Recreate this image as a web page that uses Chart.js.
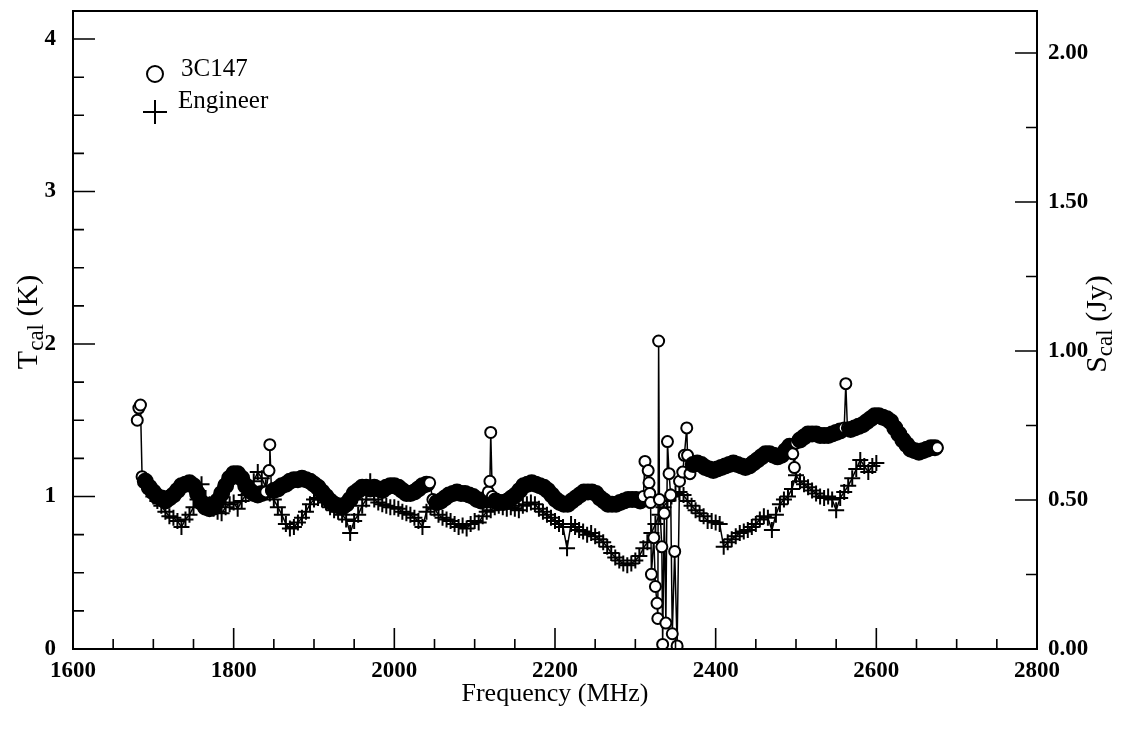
<!DOCTYPE html>
<html>
<head>
<meta charset="utf-8">
<title>Tcal vs frequency</title>
<script src="https://cdn.jsdelivr.net/npm/chart.js@4.4.1/dist/chart.umd.min.js"></script>
<style>
  html, body { margin: 0; padding: 0; background: #fff; }
  #wrap { width: 1123px; height: 742px; }
</style>
</head>
<body>
<div id="wrap"><canvas id="tcalChart" width="1123" height="742"></canvas></div>
<script>
// 3C147 (circles) - frequency in MHz, Tcal in K
const freq3C147 = [
  1680, 1682, 1684, 1686, 1690, 1695, 1700, 1705, 1710, 1715,
  1720, 1725, 1730, 1735, 1740, 1745, 1750, 1755, 1760, 1765,
  1770, 1775, 1780, 1785, 1790, 1795, 1800, 1805, 1810, 1815,
  1820, 1825, 1830, 1835, 1840, 1844, 1845, 1847, 1850, 1855,
  1860, 1865, 1870, 1875, 1880, 1885, 1890, 1895, 1900, 1905,
  1910, 1915, 1920, 1925, 1930, 1935, 1940, 1945, 1950, 1955,
  1960, 1965, 1970, 1975, 1980, 1985, 1990, 1995, 2000, 2005,
  2010, 2015, 2020, 2025, 2030, 2035, 2040, 2044, 2048, 2053,
  2058, 2063, 2068, 2073, 2078, 2083, 2088, 2093, 2098, 2103,
  2108, 2113, 2117, 2119, 2120, 2122, 2126, 2131, 2136, 2141,
  2146, 2151, 2156, 2161, 2166, 2171, 2176, 2181, 2186, 2191,
  2196, 2201, 2206, 2211, 2216, 2221, 2226, 2231, 2236, 2241,
  2246, 2251, 2256, 2261, 2266, 2271, 2276, 2281, 2286, 2291,
  2296, 2301, 2306, 2310, 2312, 2316, 2317, 2318, 2319, 2320,
  2323, 2325, 2327, 2328, 2329, 2330, 2333, 2334, 2336, 2338,
  2340, 2342, 2344, 2346, 2349, 2352, 2355, 2359, 2361, 2364,
  2365, 2368, 2372, 2377, 2382, 2387, 2392, 2397, 2402, 2407,
  2412, 2417, 2422, 2427, 2432, 2437, 2442, 2447, 2452, 2457,
  2462, 2467, 2472, 2477, 2482, 2487, 2492, 2496, 2498, 2500,
  2505, 2510, 2515, 2520, 2525, 2530, 2535, 2540, 2545, 2550,
  2555, 2560, 2562, 2564, 2568, 2573, 2578, 2583, 2588, 2593,
  2598, 2603, 2608, 2613, 2618, 2623, 2628, 2633, 2638, 2643,
  2648, 2653, 2658, 2663, 2668, 2673, 2676
];
const tcal3C147 = [
  1.50, 1.58, 1.60, 1.13, 1.10, 1.06, 1.03, 1.00, 0.99, 0.97,
  0.99, 1.01, 1.04, 1.07, 1.08, 1.09, 1.07, 1.02, 0.96, 0.93,
  0.92, 0.93, 0.97, 1.02, 1.07, 1.12, 1.15, 1.15, 1.12, 1.07,
  1.04, 1.02, 1.01, 1.02, 1.03, 1.17, 1.34, 1.04, 1.04, 1.05,
  1.07, 1.08, 1.10, 1.11, 1.11, 1.12, 1.11, 1.10, 1.08, 1.06,
  1.03, 1.00, 0.97, 0.95, 0.94, 0.93, 0.95, 0.98, 1.02, 1.04,
  1.06, 1.06, 1.05, 1.06, 1.05, 1.04, 1.06, 1.07, 1.07, 1.06,
  1.04, 1.02, 1.02, 1.03, 1.05, 1.07, 1.08, 1.09, 0.98, 0.96,
  0.97, 0.99, 1.01, 1.02, 1.03, 1.02, 1.02, 1.01, 1.00, 0.98,
  0.97, 0.98, 1.03, 1.10, 1.42, 1.00, 0.97, 0.96, 0.96, 0.97,
  0.99, 1.01, 1.04, 1.07, 1.08, 1.09, 1.08, 1.07, 1.06, 1.04,
  1.01, 0.98, 0.96, 0.95, 0.95, 0.97, 0.99, 1.01, 1.03, 1.03,
  1.03, 1.02, 0.99, 0.97, 0.95, 0.95, 0.95, 0.96, 0.97, 0.98,
  0.98, 0.98, 0.97, 1.00, 1.23, 1.17, 1.09, 1.02, 0.96, 0.49,
  0.73, 0.41, 0.30, 0.20, 2.02, 0.98, 0.67, 0.03, 0.89, 0.17,
  1.36, 1.15, 1.01, 0.10, 0.64, 0.02, 1.10, 1.16, 1.27, 1.45,
  1.27, 1.15, 1.21, 1.22, 1.21, 1.19, 1.18, 1.17, 1.18, 1.19,
  1.20, 1.21, 1.22, 1.21, 1.20, 1.19, 1.20, 1.22, 1.24, 1.26,
  1.28, 1.28, 1.27, 1.26, 1.27, 1.30, 1.33, 1.28, 1.19, 1.35,
  1.37, 1.39, 1.41, 1.41, 1.41, 1.40, 1.40, 1.40, 1.41, 1.42,
  1.43, 1.45, 1.74, 1.45, 1.44, 1.45, 1.46, 1.47, 1.49, 1.51,
  1.53, 1.53, 1.52, 1.51, 1.49, 1.45, 1.41, 1.37, 1.34, 1.31,
  1.30, 1.29, 1.30, 1.31, 1.32, 1.32, 1.32
];

// Engineer values (plus signs)
const freqEngineer = [
  1690, 1695, 1700, 1705, 1710, 1715, 1720, 1725, 1730, 1735,
  1740, 1745, 1750, 1755, 1760, 1765, 1770, 1775, 1780, 1785,
  1790, 1795, 1800, 1805, 1810, 1815, 1820, 1825, 1830, 1835,
  1840, 1845, 1850, 1855, 1860, 1865, 1870, 1875, 1880, 1885,
  1890, 1895, 1900, 1905, 1910, 1915, 1920, 1925, 1930, 1935,
  1940, 1945, 1950, 1955, 1960, 1965, 1970, 1975, 1980, 1985,
  1990, 1995, 2000, 2005, 2010, 2015, 2020, 2025, 2030, 2035,
  2040, 2045, 2050, 2055, 2060, 2065, 2070, 2075, 2080, 2085,
  2090, 2095, 2100, 2105, 2110, 2115, 2120, 2125, 2130, 2135,
  2140, 2145, 2150, 2155, 2160, 2165, 2170, 2175, 2180, 2185,
  2190, 2195, 2200, 2205, 2210, 2215, 2220, 2225, 2230, 2235,
  2240, 2245, 2250, 2255, 2260, 2265, 2270, 2275, 2280, 2285,
  2290, 2295, 2300, 2305, 2310, 2315, 2320, 2325, 2330, 2335,
  2340, 2345, 2350, 2355, 2360, 2365, 2370, 2375, 2380, 2385,
  2390, 2395, 2400, 2405, 2410, 2415, 2420, 2425, 2430, 2435,
  2440, 2445, 2450, 2455, 2460, 2465, 2470, 2475, 2480, 2485,
  2490, 2495, 2500, 2505, 2510, 2515, 2520, 2525, 2530, 2535,
  2540, 2545, 2550, 2555, 2560, 2565, 2570, 2575, 2580, 2585,
  2590, 2595, 2600
];
const tcalEngineer = [
  1.10, 1.05, 1.00, 0.97, 0.94, 0.90, 0.87, 0.86, 0.84, 0.80,
  0.85, 0.88, 0.93, 0.98, 1.08, 0.99, 0.95, 0.92, 0.90, 0.89,
  0.93, 0.95, 0.96, 0.92, 0.97, 1.01, 1.05, 1.10, 1.16, 1.12,
  1.06, 1.02, 0.98, 0.93, 0.88, 0.82, 0.79, 0.80, 0.83, 0.86,
  0.90, 0.95, 0.98, 0.99, 0.98, 0.96, 0.93, 0.91, 0.90, 0.88,
  0.85, 0.76, 0.84, 0.88, 0.94, 0.98, 1.10, 0.98, 0.96, 0.95,
  0.94, 0.93, 0.93, 0.92, 0.90, 0.89, 0.88, 0.86, 0.84, 0.80,
  0.90, 0.93, 0.92, 0.88, 0.86, 0.85, 0.84, 0.82, 0.80, 0.81,
  0.79, 0.82, 0.84, 0.83, 0.87, 0.90, 0.91, 0.93, 0.94, 0.93,
  0.92, 0.93, 0.92, 0.91, 0.94, 0.95, 0.96, 0.95, 0.92, 0.90,
  0.88, 0.86, 0.84, 0.82, 0.80, 0.66, 0.82, 0.80, 0.78, 0.77,
  0.75, 0.76, 0.74, 0.72, 0.70, 0.67, 0.63, 0.60, 0.58, 0.56,
  0.55, 0.56, 0.58, 0.61, 0.66, 0.70, 0.76, 0.82, 0.88, 0.93,
  0.97, 1.00, 1.02, 1.03, 1.01, 0.97, 0.94, 0.91, 0.89, 0.87,
  0.84, 0.84, 0.83, 0.82, 0.67, 0.70, 0.72, 0.74, 0.76, 0.77,
  0.78, 0.80, 0.82, 0.85, 0.87, 0.86, 0.78, 0.88, 0.95, 0.98,
  1.00, 1.05, 1.14, 1.10, 1.08, 1.06, 1.04, 1.02, 1.00, 0.99,
  1.00, 0.98, 0.91, 0.99, 1.03, 1.07, 1.12, 1.18, 1.24, 1.20,
  1.16, 1.20, 1.22
];

const xTicks = [1600, 1800, 2000, 2200, 2400, 2600, 2800];
const leftTicks = [0, 1, 2, 3, 4];
const rightTicks = [0, 0.5, 1, 1.5, 2];

const serif = '"Liberation Serif", "Times New Roman", serif';
const tickFont = { family: serif, size: 23, weight: 'bold' };

function toPoints(xs, ys) {
  return xs.map((f, i) => ({ x: f, y: ys[i] }));
}

// band points (close to both neighbours) merge into a black ribbon, stray ones stay open
function inBand(ctx) {
  const d = ctx.dataset.data;
  const i = ctx.dataIndex;
  const p = d[i - 1], n = d[i + 1];
  if (!p || !n) return false;
  const v = d[i].y;
  return Math.abs(v - p.y) <= 0.07 && Math.abs(v - n.y) <= 0.07;
}

function drawSubLabel(ctx, x, y, base, sub, rest, size) {
  ctx.save();
  ctx.translate(x, y);
  ctx.rotate(-Math.PI / 2);
  const big = size + 'px ' + serif;
  const small = Math.round(size * 0.75) + 'px ' + serif;
  ctx.font = big;
  const w1 = ctx.measureText(base).width;
  const w3 = ctx.measureText(rest).width;
  ctx.font = small;
  const w2 = ctx.measureText(sub).width;
  let cx = -(w1 + w2 + w3) / 2;
  ctx.textAlign = 'left';
  ctx.textBaseline = 'alphabetic';
  ctx.font = big;
  ctx.fillText(base, cx, 0);
  cx += w1;
  ctx.font = small;
  ctx.fillText(sub, cx, size * 0.2);
  cx += w2;
  ctx.font = big;
  ctx.fillText(rest, cx, 0);
  ctx.restore();
}

const framePlugin = {
  id: 'frame',
  afterDraw(chart) {
    const { ctx, chartArea: a, scales } = chart;
    ctx.save();
    ctx.strokeStyle = '#000';
    ctx.fillStyle = '#000';
    ctx.lineWidth = 2;
    ctx.strokeRect(a.left, a.top, a.right - a.left, a.bottom - a.top);

    // inward tick marks
    ctx.lineWidth = 1.6;
    ctx.beginPath();
    for (let f = 1650; f < 2800; f += 50) {
      const x = scales.x.getPixelForValue(f);
      const len = f % 200 === 0 ? 21 : 10;
      ctx.moveTo(x, a.bottom);
      ctx.lineTo(x, a.bottom - len);
    }
    for (let t = 0.25; t <= 4; t += 0.25) {
      const y = scales.y.getPixelForValue(t);
      const len = Number.isInteger(t) ? 22 : 11;
      ctx.moveTo(a.left, y);
      ctx.lineTo(a.left + len, y);
    }
    for (let s = 0.25; s <= 2; s += 0.25) {
      const y = scales.y2.getPixelForValue(s);
      const len = Math.abs(s * 2 - Math.round(s * 2)) < 1e-6 ? 22 : 11;
      ctx.moveTo(a.right, y);
      ctx.lineTo(a.right - len, y);
    }
    ctx.stroke();

    // axis titles
    ctx.font = '26px ' + serif;
    ctx.textAlign = 'center';
    ctx.textBaseline = 'alphabetic';
    ctx.fillText('Frequency (MHz)', (a.left + a.right) / 2, 701);
    drawSubLabel(ctx, 37, 322, 'T', 'cal', ' (K)', 30);
    drawSubLabel(ctx, 1106, 324, 'S', 'cal', ' (Jy)', 30);

    // legend
    ctx.lineWidth = 2;
    ctx.beginPath();
    ctx.arc(155, 74, 8, 0, Math.PI * 2);
    ctx.fillStyle = '#fff';
    ctx.fill();
    ctx.stroke();
    ctx.beginPath();
    ctx.moveTo(143, 112);
    ctx.lineTo(167, 112);
    ctx.moveTo(155, 100);
    ctx.lineTo(155, 124);
    ctx.stroke();
    ctx.fillStyle = '#000';
    ctx.textAlign = 'left';
    ctx.font = '25px ' + serif;
    ctx.fillText('3C147', 181, 76);
    ctx.fillText('Engineer', 178, 108);
    ctx.restore();
  }
};

function noEdgePadding(s) {
  s.paddingTop = 0;
  s.paddingBottom = 0;
}

const ctx = document.getElementById('tcalChart').getContext('2d');
new Chart(ctx, {
  type: 'scatter',
  data: {
    datasets: [
      {
        label: '3C147',
        data: toPoints(freq3C147, tcal3C147),
        showLine: true,
        borderColor: '#000',
        borderWidth: 1.5,
        pointStyle: 'circle',
        pointRadius: (c) => inBand(c) ? 7.5 : 5.5,
        pointBorderWidth: 2,
        pointBorderColor: '#000',
        pointBackgroundColor: (c) => inBand(c) ? '#000' : '#fff',
        yAxisID: 'y'
      },
      {
        label: 'Engineer',
        data: toPoints(freqEngineer, tcalEngineer),
        showLine: true,
        borderColor: '#000',
        borderWidth: 1.5,
        pointStyle: 'cross',
        pointRadius: 8,
        pointBorderWidth: 2,
        pointBorderColor: '#000',
        yAxisID: 'y'
      }
    ]
  },
  options: {
    responsive: false,
    animation: false,
    devicePixelRatio: 1,
    layout: { padding: { top: 11, left: 0, right: 0, bottom: 0 } },
    plugins: {
      legend: { display: false },
      tooltip: { enabled: false }
    },
    scales: {
      x: {
        type: 'linear',
        min: 1600,
        max: 2800,
        grid: { display: false, drawTicks: false },
        border: { display: false },
        afterBuildTicks: (s) => { s.ticks = xTicks.map(v => ({ value: v })); },
        afterFit: (s) => { s.height = 93; s.paddingLeft = 0; s.paddingRight = 0; },
        ticks: {
          padding: 8,
          color: '#000',
          font: tickFont,
          maxRotation: 0,
          callback: (v) => String(v)
        }
      },
      y: {
        position: 'left',
        min: 0,
        max: 4.184,
        grid: { display: false, drawTicks: false },
        border: { display: false },
        afterBuildTicks: (s) => { s.ticks = leftTicks.map(v => ({ value: v })); },
        afterFit: (s) => { s.width = 73; noEdgePadding(s); },
        ticks: {
          padding: 17,
          color: '#000',
          font: tickFont,
          callback: (v) => String(v)
        }
      },
      y2: {
        position: 'right',
        min: 0,
        max: 2.141,
        grid: { display: false, drawTicks: false },
        border: { display: false },
        afterBuildTicks: (s) => { s.ticks = rightTicks.map(v => ({ value: v })); },
        afterFit: (s) => { s.width = 1123 - 1037; noEdgePadding(s); },
        ticks: {
          padding: 11,
          color: '#000',
          font: tickFont,
          callback: (v) => Number(v).toFixed(2)
        }
      }
    }
  },
  plugins: [framePlugin]
});
</script>
</body>
</html>
